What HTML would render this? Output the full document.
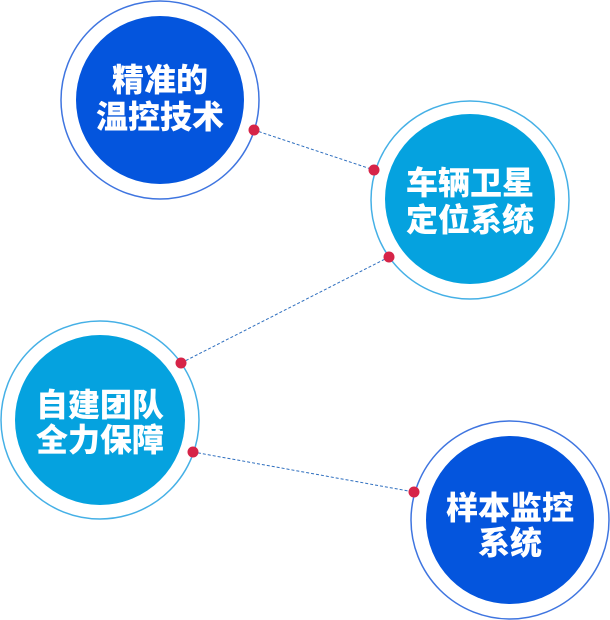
<!DOCTYPE html>
<html><head><meta charset="utf-8"><style>
html,body{margin:0;padding:0;background:#fff;}
svg{display:block}
text{font-family:"Liberation Sans","Noto Sans CJK SC",sans-serif;font-weight:900;font-size:32px;fill:#fff;text-anchor:middle;dominant-baseline:central}
</style></head><body>
<svg width="610" height="620" viewBox="0 0 610 620" xmlns="http://www.w3.org/2000/svg">
<g fill="none" stroke="#2f6fbf" stroke-width="1" stroke-dasharray="3,2">
<line x1="254" y1="130" x2="374" y2="170"/>
<line x1="389" y1="257" x2="181" y2="363"/>
<line x1="193" y1="452" x2="414" y2="492"/>
</g>
<circle cx="160" cy="100" r="99" fill="none" stroke="#3f75e0" stroke-width="1.5"/>
<circle cx="160" cy="100" r="84" fill="#0455dd"/>
<circle cx="470" cy="200" r="99" fill="none" stroke="#45b0e6" stroke-width="1.5"/>
<circle cx="470" cy="199" r="85" fill="#05a2df"/>
<circle cx="100" cy="420" r="99" fill="none" stroke="#45b0e6" stroke-width="1.5"/>
<circle cx="100" cy="420" r="85" fill="#05a2df"/>
<circle cx="510" cy="520" r="99" fill="none" stroke="#3f75e0" stroke-width="1.5"/>
<circle cx="510" cy="520" r="84" fill="#0455dd"/>
<g fill="#d62448">
<circle cx="254" cy="130" r="5.5"/><circle cx="374" cy="170" r="5.5"/>
<circle cx="389" cy="257" r="5.5"/><circle cx="181" cy="363" r="5.5"/>
<circle cx="193" cy="452" r="5.5"/><circle cx="414" cy="492" r="5.5"/>
</g>
<text x="160" y="80">精准的</text>
<text x="160" y="117">温控技术</text>
<text x="470" y="183">车辆卫星</text>
<text x="470" y="220">定位系统</text>
<text x="100" y="405">自建团队</text>
<text x="100" y="440">全力保障</text>
<text x="510" y="508">样本监控</text>
<text x="510" y="543">系统</text>
</svg>
</body></html>
